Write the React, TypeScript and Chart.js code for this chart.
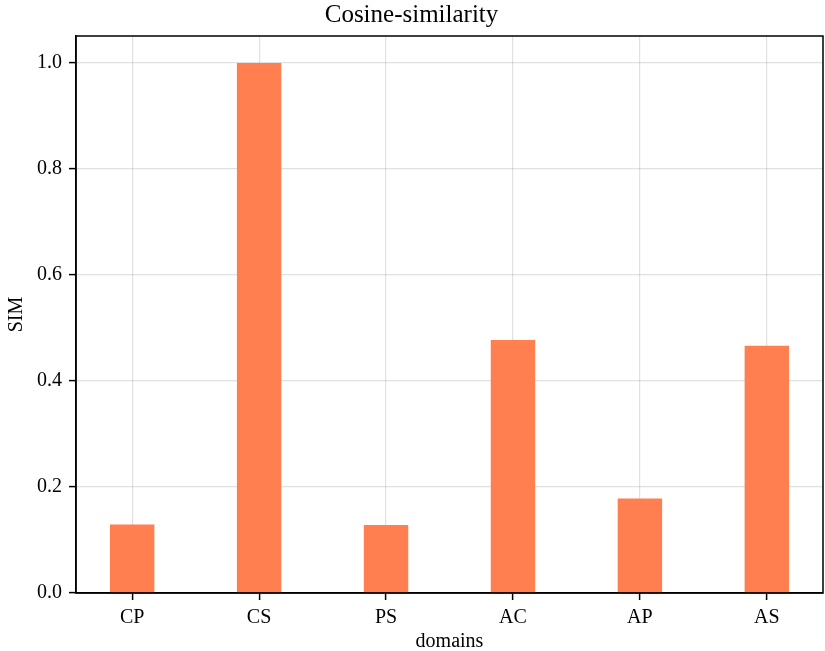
import React, { useEffect, useRef } from "react";
import { Chart, registerables } from "chart.js";

Chart.register(...registerables);

const categories = ["CP", "CS", "PS", "AC", "AP", "AS"];
const simValues = [0.129, 0.999, 0.128, 0.477, 0.178, 0.466];
const yTickValues = [0.0, 0.2, 0.4, 0.6, 0.8, 1.0];
const chartTitle = "Cosine-similarity";
const xLabel = "domains";
const yLabel = "SIM";

const FONT = "'Liberation Serif', 'Times New Roman', serif";

const framePlugin = {
  id: "frame",
  afterDraw(chart: any) {
    const { ctx, chartArea } = chart;
    ctx.save();
    ctx.strokeStyle = "#000";
    ctx.lineWidth = 1.5;
    ctx.strokeRect(
      chartArea.left,
      chartArea.top,
      chartArea.right - chartArea.left,
      chartArea.bottom - chartArea.top
    );
    ctx.restore();
  },
};

export default function App() {
  const ref = useRef<HTMLCanvasElement | null>(null);

  useEffect(() => {
    if (!ref.current) return;
    const n = categories.length;
    const chart = new Chart(ref.current, {
      type: "bar",
      data: {
        datasets: [
          {
            data: simValues.map((v, i) => ({ x: i, y: v })),
            backgroundColor: "rgb(255,127,80)",
            borderWidth: 0,
            barPercentage: 0.35,
            categoryPercentage: 1,
          },
        ],
      },
      options: {
        animation: false,
        responsive: false,
        maintainAspectRatio: false,
        layout: { padding: { left: 0, right: 2, top: 0, bottom: 0 } },
        plugins: {
          legend: { display: false },
          tooltip: { enabled: false },
          title: {
            display: true,
            text: chartTitle,
            color: "#000",
            font: { family: FONT, size: 25, weight: "normal", lineHeight: 1.2 },
            padding: { top: 0, bottom: 6 },
          },
        },
        scales: {
          x: {
            type: "linear",
            offset: false,
            min: -0.4425,
            max: n - 1 + 0.4425,
            z: 1,
            afterBuildTicks: (scale: any) => {
              scale.ticks = categories.map((_, i) => ({ value: i }));
            },
            afterFit: (scale: any) => {
              scale.height = 58;
            },
            ticks: {
              callback: (v: any) => categories[Math.round(Number(v))] ?? "",
              color: "#000",
              font: { family: FONT, size: 20 },
              padding: 6,
              maxRotation: 0,
              autoSkip: false,
            },
            grid: {
              offset: false,
              color: "rgba(120,120,120,0.22)",
              lineWidth: 1.2,
              drawTicks: true,
              tickLength: 7,
              tickColor: "#000",
              tickWidth: 1.5,
            },
            border: { display: true, color: "#000", width: 1.5 },
            title: {
              display: true,
              text: xLabel,
              color: "#000",
              font: { family: FONT, size: 20, lineHeight: 0.9 },
              padding: { top: 0, bottom: 0 },
            },
          },
          y: {
            type: "linear",
            min: 0,
            max: 1.05,
            z: 1,
            afterBuildTicks: (scale: any) => {
              scale.ticks = yTickValues.map((v) => ({ value: v }));
            },
            afterFit: (scale: any) => {
              scale.width = 76;
            },
            ticks: {
              callback: (v: any) => Number(v).toFixed(1),
              color: "#000",
              font: { family: FONT, size: 20 },
              padding: 7,
            },
            grid: {
              color: "rgba(120,120,120,0.22)",
              lineWidth: 1.2,
              drawTicks: true,
              tickLength: 7,
              tickColor: "#000",
              tickWidth: 1.5,
            },
            border: { display: true, color: "#000", width: 1.5 },
            title: {
              display: true,
              text: yLabel,
              color: "#000",
              font: { family: FONT, size: 20, lineHeight: 1.2 },
              padding: { top: 5, bottom: 0 },
            },
          },
        },
      } as any,
      plugins: [framePlugin],
    });
    return () => chart.destroy();
  }, []);

  return (
    <div style={{ position: "absolute", left: 0, top: 0, width: 825, height: 651, background: "#fff" }}>
      <canvas ref={ref} width={825} height={651} style={{ display: "block", width: 825, height: 651 }} />
    </div>
  );
}
